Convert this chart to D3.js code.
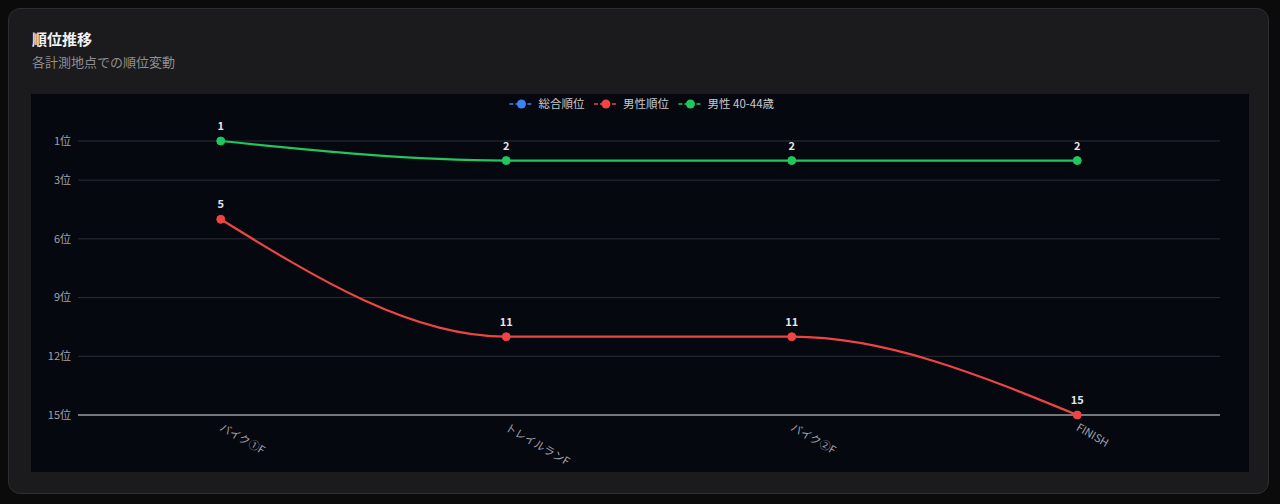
<!DOCTYPE html>
<html>
<head>
<meta charset="utf-8">
<script src="https://cdn.jsdelivr.net/npm/d3@7"></script>
<style>
  html, body { margin: 0; padding: 0; background: #0b0b0c; }
  body { width: 1280px; height: 504px; overflow: hidden; font-family: "Noto Sans CJK JP", "Noto Sans", sans-serif; }
  .card { position: absolute; left: 8px; top: 8px; width: 1261px; height: 486px; box-sizing: border-box;
          background: #1b1b1d; border: 1px solid #2e2e31; border-radius: 12px; }
  .title { position: absolute; left: 23px; top: 19px; color: #f2f2f2; font-size: 15px; font-weight: bold; }
  .subtitle { position: absolute; left: 23px; top: 43px; color: #8e8e93; font-size: 13px; }
  svg { position: absolute; left: 0; top: 0; }
</style>
</head>
<body>
<div class="card">
  <div class="title">順位推移</div>
  <div class="subtitle">各計測地点での順位変動</div>
</div>
<svg id="chart" width="1280" height="504"></svg>
<script>
// checkpoints
const checkpoints = ["バイク①F", "トレイルランF", "バイク②F", "FINISH"];

// ranks per series (overall has no data in the picture)
const overallRank = [null, null, null, null];
const maleRank = [5, 11, 11, 15];
const ageRank = [1, 2, 2, 2];

const seriesNames = ["総合順位", "男性順位", "男性 40-44歳"];
const seriesColors = ["#3b82f6", "#ef4444", "#22c55e"];

const yTicks = [1, 3, 6, 9, 12, 15];

const panel = { left: 31, top: 94, right: 1249, bottom: 472 };
const plot = { left: 78, right: 1220, top: 141, bottom: 415 };

const svg = d3.select("#chart");

// dark chart panel
svg.append("rect")
    .attr("x", panel.left)
    .attr("y", panel.top)
    .attr("width", panel.right - panel.left)
    .attr("height", panel.bottom - panel.top)
    .attr("fill", "#05080f");

const x = d3.scalePoint().domain(checkpoints).range([plot.left, plot.right]).padding(0.5);
const y = d3.scaleLinear().domain([1, 15]).range([plot.top, plot.bottom]);

// gridlines
svg.append("g")
    .selectAll("line")
    .data(yTicks)
    .enter().append("line")
    .attr("x1", plot.left)
    .attr("x2", plot.right)
    .attr("y1", d => y(d))
    .attr("y2", d => y(d))
    .attr("stroke", d => d === 15 ? "#e5e5ea" : "#2b2f38")
    .attr("stroke-width", 1);

// y tick labels
svg.append("g")
    .selectAll("text")
    .data(yTicks)
    .enter().append("text")
    .attr("x", plot.left - 7)
    .attr("y", d => y(d))
    .attr("dy", "0.35em")
    .attr("text-anchor", "end")
    .attr("fill", "#a1a1aa")
    .style("font-size", "11px")
    .text(d => d + "位");

// x tick labels, rotated
svg.append("g")
    .selectAll("text")
    .data(checkpoints)
    .enter().append("text")
    .attr("transform", d => `translate(${x(d) + 2},${plot.bottom + 8}) rotate(30)`)
    .attr("text-anchor", "start")
    .attr("dy", "0.7em")
    .attr("fill", "#a1a1aa")
    .style("font-size", "11px")
    .text(d => d);

const line = d3.line()
    .defined(d => d.v != null)
    .x(d => x(d.cp))
    .y(d => y(d.v))
    .curve(d3.curveMonotoneX);

const allSeries = [overallRank, maleRank, ageRank].map((vals, i) => ({
    name: seriesNames[i],
    color: seriesColors[i],
    points: vals.map((v, j) => ({ cp: checkpoints[j], v: v }))
}));

allSeries.forEach(s => {
    const pts = s.points.filter(p => p.v != null);
    if (!pts.length) return;

    svg.append("path")
        .datum(s.points)
        .attr("d", line)
        .attr("fill", "none")
        .attr("stroke", s.color)
        .attr("stroke-width", 2.2);

    svg.append("g")
        .selectAll("circle")
        .data(pts)
        .enter().append("circle")
        .attr("cx", d => x(d.cp))
        .attr("cy", d => y(d.v))
        .attr("r", 4)
        .attr("fill", s.color)
        .attr("stroke", s.color);

    svg.append("g")
        .selectAll("text")
        .data(pts)
        .enter().append("text")
        .attr("x", d => x(d.cp))
        .attr("y", d => y(d.v) - 11)
        .attr("text-anchor", "middle")
        .attr("fill", "#e5e5ea")
        .style("font-size", "11px")
        .style("font-weight", "bold")
        .text(d => d.v);
});

// legend, centred at the top of the panel
const legend = svg.append("g").attr("transform", `translate(0,104)`);
const items = legend.selectAll("g")
    .data(allSeries)
    .enter().append("g");

items.append("line")
    .attr("x1", 0).attr("x2", 24)
    .attr("stroke", d => d.color)
    .attr("stroke-width", 1.5)
    .attr("stroke-dasharray", "4,2");
items.append("circle")
    .attr("cx", 12)
    .attr("r", 4.5)
    .attr("fill", d => d.color);
items.append("text")
    .attr("x", 29)
    .attr("dy", "0.35em")
    .attr("fill", "#c7c7cc")
    .style("font-size", "11.5px")
    .text(d => d.name);

// lay out legend items side by side
let offset = 0;
const widths = [];
items.each(function () { widths.push(this.getBBox().width); });
const gap = 9;
const total = d3.sum(widths) + gap * (widths.length - 1);
offset = 642 - total / 2;
items.attr("transform", (d, i) => {
    const t = `translate(${offset},0)`;
    offset += widths[i] + gap;
    return t;
});
</script>
</body>
</html>
